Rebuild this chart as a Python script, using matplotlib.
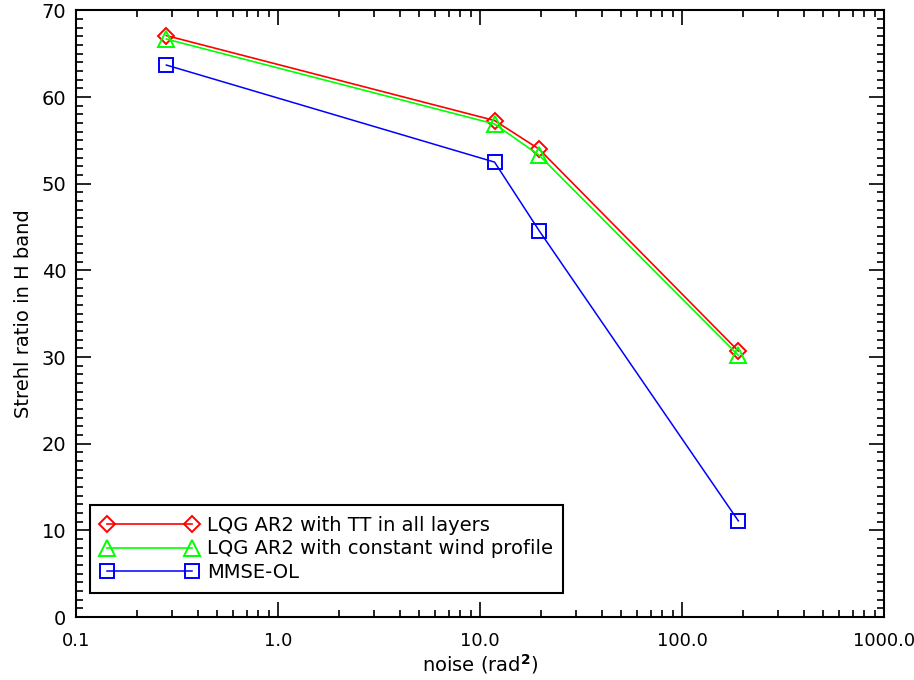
import numpy as np
import matplotlib.pyplot as plt
from matplotlib.ticker import MultipleLocator, FixedLocator, NullFormatter

noise = [0.28, 11.8, 19.6, 190.0]  # rad^2
sr_tt_all = [67.1, 57.3, 54.0, 30.7]
sr_const_wind = [66.7, 56.9, 53.3, 30.2]
sr_mmse_ol = [63.7, 52.5, 44.6, 11.1]

labels = ["LQG AR2 with TT in all layers",
          "LQG AR2 with constant wind profile",
          "MMSE-OL"]
xticks = [0.1, 1, 10, 100, 1000]
xticklabels = ["0.1", "1.0", "10.0", "100.0", "1000.0"]

plt.rcParams['font.family'] = ['DejaVu Sans']
fig = plt.figure(figsize=(9.14, 6.80), dpi=100)
ax = fig.add_axes([0.0832, 0.0926, 0.884, 0.892])

ax.plot(noise, sr_tt_all, color='red', lw=1.2, marker='D', ms=8,
        mfc='none', mew=1.4, label=labels[0])
ax.plot(noise, sr_const_wind, color='#00ff00', lw=1.2, marker='^', ms=11,
        mfc='none', mew=1.4, label=labels[1])
ax.plot(noise, sr_mmse_ol, color='#0000ff', lw=1.1, marker='s', ms=10,
        mfc='none', mew=1.4, label=labels[2])

ax.set_xscale('log')
ax.set_xlim(0.1, 1000)
ax.set_ylim(0, 70)
ax.xaxis.set_major_locator(FixedLocator(xticks))
ax.set_xticklabels(xticklabels)
ax.xaxis.set_minor_formatter(NullFormatter())
ax.yaxis.set_major_locator(MultipleLocator(10))
ax.yaxis.set_minor_locator(MultipleLocator(1))

ax.tick_params(which='both', direction='in', top=True, right=True,
               labelsize=14, width=1.2, color='black')
ax.tick_params(axis='x', pad=11, labelsize=13)
ax.tick_params(axis='y', pad=7)
ax.tick_params(which='major', length=11)
ax.tick_params(which='minor', length=5)
for s in ax.spines.values():
    s.set_linewidth(1.5)

ax.set_xlabel('noise (rad$^{\\mathbf{2}}$)', fontsize=14, labelpad=1)
ax.set_ylabel('Strehl ratio in H band', fontsize=14, labelpad=6)

leg = ax.legend(loc='lower left', bbox_to_anchor=(0.0173, 0.04),
                numpoints=2, fontsize=14, handlelength=5.0,
                borderaxespad=0, frameon=True, fancybox=False,
                labelspacing=0.24, handletextpad=0.45, borderpad=0.55)
leg.get_frame().set_edgecolor('black')
leg.get_frame().set_linewidth(1.5)
leg.get_frame().set_alpha(1)

fig.savefig('out.png', dpi=100)
